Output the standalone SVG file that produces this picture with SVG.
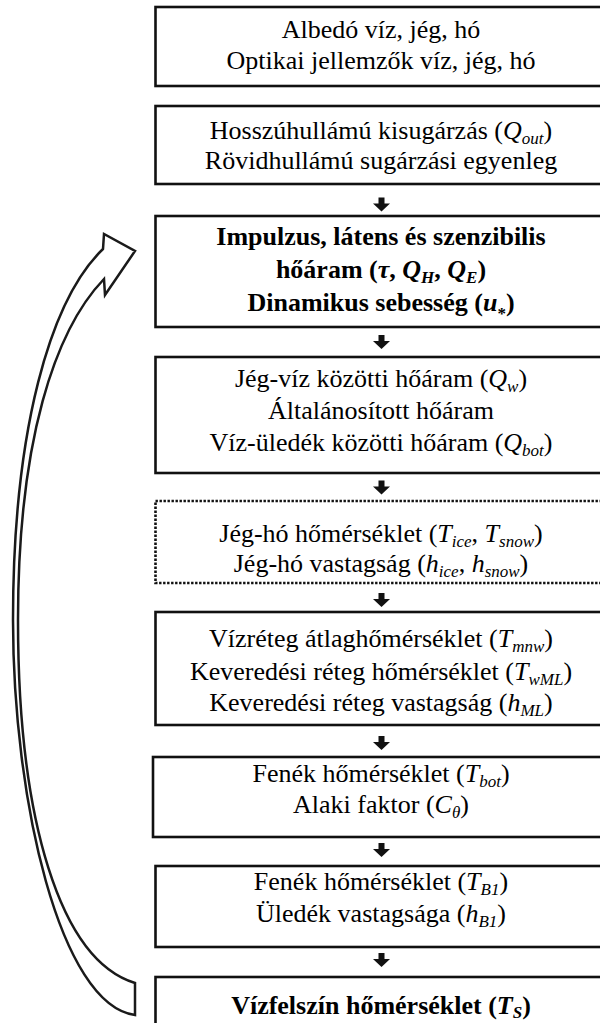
<svg xmlns="http://www.w3.org/2000/svg" width="600" height="1023" viewBox="0 0 600 1023">
<style>
.box{fill:#fff;stroke:#111;stroke-width:2.6}
.dot{fill:#fff;stroke:#111;stroke-width:2.6;stroke-dasharray:2.4 1.6}
.t{font-family:"Liberation Serif","Times New Roman",serif;font-size:26px;text-anchor:middle;fill:#000}
.b{font-weight:bold}
.i{font-style:italic}
.s{font-size:17px}
.arr{fill:#111}
.big{fill:#fff;stroke:#1a1a1a;stroke-width:2.5;stroke-linejoin:miter}
</style>
<defs>
<polygon id="dn" points="-3,0 3,0 3,6 8.5,6 0,14 -8.5,6 -3,6"/>
</defs>
<rect width="600" height="1023" fill="#fff"/>
<g id="connectors">
<path class="big" d="M135,983 L135,1015 C60,1005 13,800 13,620 C13,430 50,300 103,249 L104,234 L135,251 L105,295 L104,279 C55,330 18,440 18,620 C18,820 60,960 135,983 Z"/>
<use href="#dn" class="arr" x="381.5" y="197.5"/>
<use href="#dn" class="arr" x="381.5" y="335"/>
<use href="#dn" class="arr" x="381.5" y="480.5"/>
<use href="#dn" class="arr" x="381.5" y="593"/>
<use href="#dn" class="arr" x="381.5" y="736"/>
<use href="#dn" class="arr" x="381.5" y="843"/>
<use href="#dn" class="arr" x="381.5" y="953"/>
</g>
<g id="n1">
<rect class="box" x="155.5" y="7" width="452" height="79"/>
<text class="t" x="381" y="38">Albedó víz, jég, hó</text>
<text class="t" x="381" y="69">Optikai jellemzők víz, jég, hó</text>
</g>
<g id="n2">
<rect class="box" x="155.5" y="106" width="452" height="78"/>
<text class="t" x="381" y="139">Hosszúhullámú kisugárzás (<tspan class="i">Q</tspan><tspan class="i s" dy="5">out</tspan><tspan dy="-5">)</tspan></text>
<text class="t" x="381" y="169">Rövidhullámú sugárzási egyenleg</text>
</g>
<g id="n3">
<rect class="box" x="155.5" y="216" width="452" height="111"/>
<text class="t b" x="381" y="245">Impulzus, látens és szenzibilis</text>
<text class="t b" x="381" y="278">hőáram (<tspan class="i">τ</tspan>, <tspan class="i">Q</tspan><tspan class="i s" dy="5">H</tspan><tspan dy="-5">, </tspan><tspan class="i">Q</tspan><tspan class="i s" dy="5">E</tspan><tspan dy="-5">)</tspan></text>
<text class="t b" x="381" y="311">Dinamikus sebesség (<tspan class="i">u</tspan><tspan class="s" dy="8">*</tspan><tspan dy="-8">)</tspan></text>
</g>
<g id="n4">
<rect class="box" x="155.5" y="357" width="452" height="116"/>
<text class="t" x="381" y="387">Jég-víz közötti hőáram (<tspan class="i">Q</tspan><tspan class="i s" dy="5">w</tspan><tspan dy="-5">)</tspan></text>
<text class="t" x="381" y="419">Általánosított hőáram</text>
<text class="t" x="381" y="451">Víz-üledék közötti hőáram (<tspan class="i">Q</tspan><tspan class="i s" dy="5">bot</tspan><tspan dy="-5">)</tspan></text>
</g>
<g id="n5">
<rect class="dot" x="155.5" y="501" width="452" height="82"/>
<text class="t" x="381" y="542">Jég-hó hőmérséklet (<tspan class="i">T</tspan><tspan class="i s" dy="5">ice</tspan><tspan dy="-5">, </tspan><tspan class="i">T</tspan><tspan class="i s" dy="5">snow</tspan><tspan dy="-5">)</tspan></text>
<text class="t" x="381" y="572">Jég-hó vastagság (<tspan class="i">h</tspan><tspan class="i s" dy="5">ice</tspan><tspan dy="-5">, </tspan><tspan class="i">h</tspan><tspan class="i s" dy="5">snow</tspan><tspan dy="-5">)</tspan></text>
</g>
<g id="n6">
<rect class="box" x="155.5" y="612" width="452" height="113"/>
<text class="t" x="381" y="647">Vízréteg átlaghőmérséklet (<tspan class="i">T</tspan><tspan class="i s" dy="5">mnw</tspan><tspan dy="-5">)</tspan></text>
<text class="t" x="381" y="680">Keveredési réteg hőmérséklet (<tspan class="i">T</tspan><tspan class="i s" dy="5">wML</tspan><tspan dy="-5">)</tspan></text>
<text class="t" x="381" y="711">Keveredési réteg vastagság (<tspan class="i">h</tspan><tspan class="i s" dy="5">ML</tspan><tspan dy="-5">)</tspan></text>
</g>
<g id="n7">
<rect class="box" x="153" y="757" width="454.5" height="80"/>
<text class="t" x="381" y="782">Fenék hőmérséklet (<tspan class="i">T</tspan><tspan class="i s" dy="5">bot</tspan><tspan dy="-5">)</tspan></text>
<text class="t" x="381" y="813">Alaki faktor (<tspan class="i">C</tspan><tspan class="i s" dy="5">θ</tspan><tspan dy="-5">)</tspan></text>
</g>
<g id="n8">
<rect class="box" x="155.5" y="866" width="452" height="81"/>
<text class="t" x="381" y="890">Fenék hőmérséklet (<tspan class="i">T</tspan><tspan class="i s" dy="5">B1</tspan><tspan dy="-5">)</tspan></text>
<text class="t" x="381" y="922">Üledék vastagsága (<tspan class="i">h</tspan><tspan class="i s" dy="5">B1</tspan><tspan dy="-5">)</tspan></text>
</g>
<g id="n9">
<rect class="box" x="155.5" y="977" width="452" height="60"/>
<text class="t b" x="381" y="1014">Vízfelszín hőmérséklet (<tspan class="i">T</tspan><tspan class="i s" dy="4">S</tspan><tspan dy="-4">)</tspan></text>
</g>
</svg>
